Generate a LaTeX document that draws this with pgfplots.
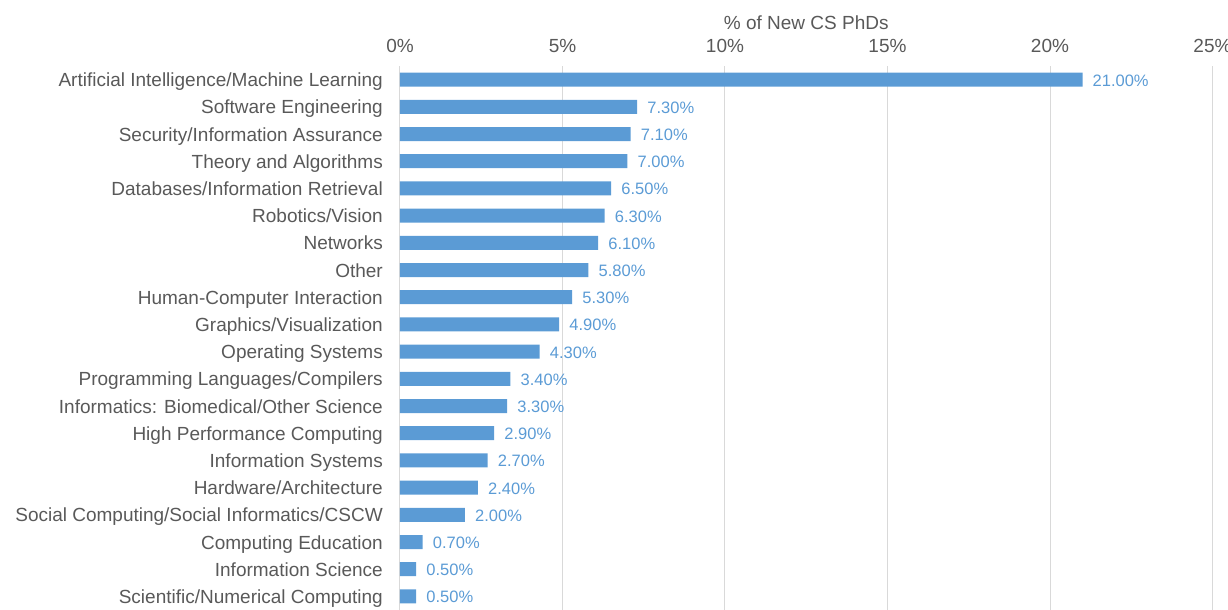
\documentclass[border=0pt]{standalone}
\usepackage{pgfplots}
\pgfplotsset{compat=1.18}
\usepackage{fontspec}
\setmainfont{Liberation Sans}
\definecolor{barblue}{HTML}{5B9BD5}
\definecolor{txtgray}{HTML}{595959}
\definecolor{gridgray}{HTML}{D9D9D9}
\newcommand\cf{\fontsize{19bp}{22bp}\selectfont}
\newcommand\vf{\fontsize{16.5bp}{19bp}\selectfont}

\begin{document}
\begin{tikzpicture}
\begin{axis}[
    name=ax,
    scale only axis,
    width=812.5bp, height=544bp,
    xbar, bar width=14bp,
    xmin=0, xmax=25,
    ymin=-0.5, ymax=19.5, y dir=reverse,
    xtick={0,5,10,15,20,25},
    xticklabel={\pgfmathprintnumber[assume math mode=true]{\tick}\%},
    xticklabel pos=upper,
    xticklabel style={font=\cf, text=txtgray, anchor=base, inner sep=0pt, yshift=14bp},
    ytick={0,...,19},
    yticklabels={Artificial Intelligence/Machine Learning, Software Engineering,
        Security/Information Assurance, Theory and Algorithms,
        Databases/Information Retrieval, Robotics/Vision, Networks, Other,
        Human-Computer Interaction, Graphics/Visualization, Operating Systems,
        Programming Languages/Compilers, Informatics: Biomedical/Other Science,
        High Performance Computing, Information Systems, Hardware/Architecture,
        Social Computing/Social Informatics/CSCW, Computing Education,
        Information Science, Scientific/Numerical Computing},
    yticklabel style={font=\cf, text=txtgray, anchor=base east, inner sep=0pt, xshift=-17bp, yshift=-7bp},
    major tick length=0pt,
    axis line style={draw=none},
    xmajorgrids, grid style={gridgray, line width=1bp},
    xlabel={\% of New CS PhDs},
    xlabel style={font=\cf, text=txtgray, at={(axis description cs:0.5,1)}, anchor=base, inner sep=0pt, yshift=37bp},
    nodes near coords={\pgfmathprintnumber[fixed,fixed zerofill,precision=2,assume math mode=true]{\pgfplotspointmeta}\%},
    nodes near coords style={font=\vf, text=barblue, anchor=base west, inner sep=0pt, xshift=10bp, yshift=-6.5bp},
]
\addplot[fill=barblue, draw=none] coordinates {
    (21.0,0) (7.3,1) (7.1,2) (7.0,3) (6.5,4) (6.3,5) (6.1,6) (5.8,7) (5.3,8) (4.9,9)
    (4.3,10) (3.4,11) (3.3,12) (2.9,13) (2.7,14) (2.4,15) (2.0,16) (0.7,17) (0.5,18) (0.5,19)
};
\end{axis}
\pgfresetboundingbox
\useasboundingbox ([xshift=-400bp]ax.south west) rectangle ([xshift=15.5bp,yshift=66bp]ax.north east);
\end{tikzpicture}
\end{document}
